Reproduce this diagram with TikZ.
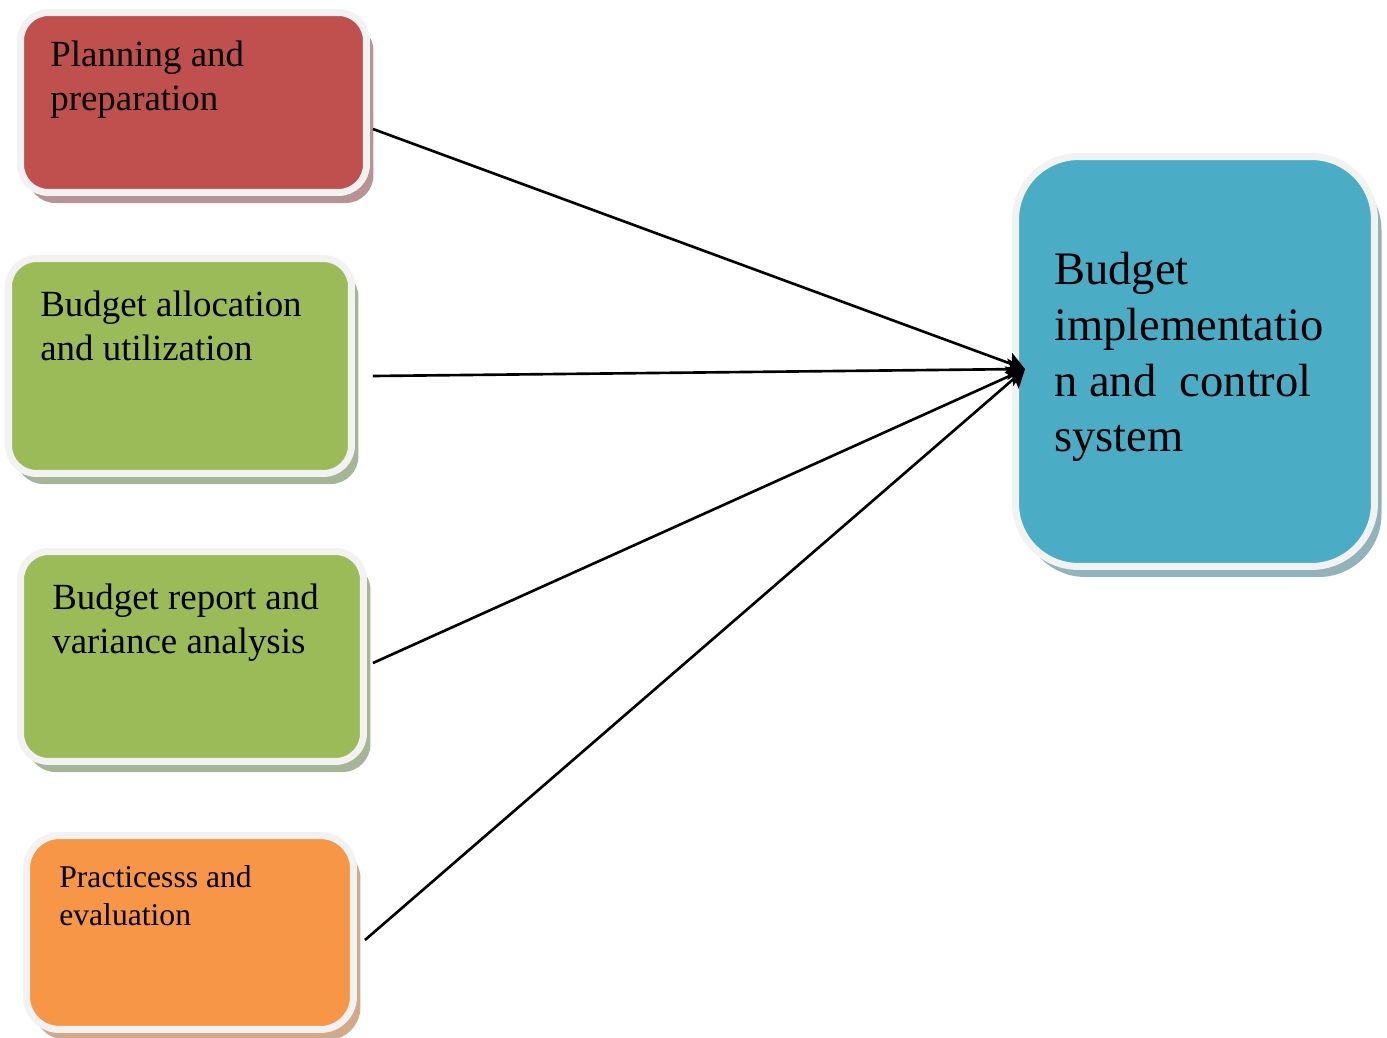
\documentclass[tikz,border=0pt]{standalone}
\usepackage{fontspec}
\setmainfont{Liberation Serif}
\usepackage{xcolor}
\usepackage{tikz}
\usetikzlibrary{calc,shadows,arrows.meta}
\definecolor{rim}{HTML}{F2F2F2}
\definecolor{planred}{HTML}{C0504D}
\definecolor{planshd}{HTML}{B89393}
\definecolor{leafgreen}{HTML}{9BBB59}
\definecolor{leafshd}{HTML}{A5B596}
\definecolor{tanorange}{HTML}{F79646}
\definecolor{tanshd}{HTML}{D4A98A}
\definecolor{seablue}{HTML}{4BACC6}
\definecolor{seashd}{HTML}{93B3BB}
\tikzset{
  box/.style={draw=rim, line width=7*0.2mm, rounded corners=0.56cm},
  lab/.style={anchor=north west, inner sep=0pt, align=left, text=black,
    font=\fontsize{21}{24.8}\selectfont},
  labs/.style={lab, font=\fontsize{18}{21.5}\selectfont},
  labb/.style={lab, font=\fontsize{26.5}{31.7}\selectfont},
  link/.style={draw=black, line width=1.5pt, -{Stealth[length=10pt,width=12pt,inset=2pt]}},
}

\begin{document}
\begin{tikzpicture}[x=0.02cm,y=-0.02cm]
  \useasboundingbox (0,0) rectangle (1387,1038);

  % boxes
  \node[box, fill=planred, minimum width=6.92cm, minimum height=3.60cm,
    drop shadow={shadow xshift=4pt, shadow yshift=-6pt, fill=planshd, opacity=1}]
    (plan) at (193.5,102.5) {};
  \node[box, fill=leafgreen, minimum width=6.86cm, minimum height=4.30cm,
    drop shadow={shadow xshift=4pt, shadow yshift=-6pt, fill=leafshd, opacity=1}]
    (alloc) at (180,366) {};
  \node[box, fill=leafgreen, minimum width=6.86cm, minimum height=4.20cm,
    drop shadow={shadow xshift=4pt, shadow yshift=-6pt, fill=leafshd, opacity=1}]
    (report) at (192,656.5) {};
  \node[box, fill=tanorange, rounded corners=0.66cm, minimum width=6.54cm, minimum height=3.88cm,
    drop shadow={shadow xshift=4pt, shadow yshift=-6pt, fill=tanshd, opacity=1}]
    (practice) at (190,932.5) {};
  \node[box, fill=seablue, rounded corners=1.26cm, minimum width=7.18cm, minimum height=8.20cm,
    drop shadow={shadow xshift=4pt, shadow yshift=-6pt, fill=seashd, opacity=1}]
    (impl) at (1195,361.5) {};

  % texts
  \node[lab] (plant) at (50,41) {Planning and\\preparation};
  \node[lab] (alloct) at (40,291) {Budget allocation\\and utilization};
  \node[lab] (reportt) at (52,584) {Budget report and\\variance analysis};
  \node[labs] (practicet) at (59,865) {Practicesss and\\evaluation};
  \node[labb] (implt) at (1054,252) {Budget\\implementatio\\n and~~control\\system};

  \draw[link] ([shift={(3,26.5)}]plan.east) -- ([shift={(13,7.5)}]impl.west);
  \draw[link] ([shift={(18,10)}]alloc.east) -- ([shift={(13,7.5)}]impl.west);
  \draw[link] ([shift={(6,6.5)}]report.east) -- ([shift={(13,7.5)}]impl.west);
  \draw[link] ([shift={(8,7.5)}]practice.east) -- ([shift={(13,7.5)}]impl.west);
\end{tikzpicture}
\end{document}
